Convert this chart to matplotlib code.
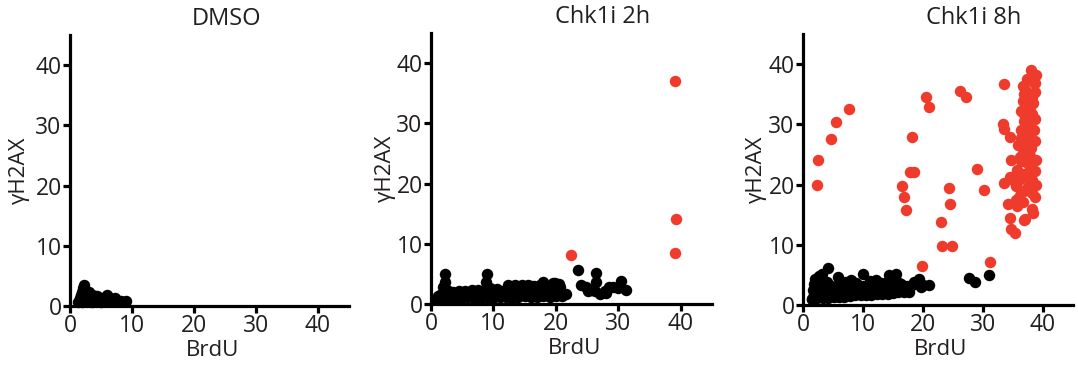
import matplotlib
matplotlib.use("Agg")
import matplotlib.pyplot as plt

plt.rcParams['font.family'] = ['Open Sans', 'DejaVu Sans']

titles = ["DMSO", "Chk1i 2h", "Chk1i 8h"]
red = '#ee3b2b'
ink = '#231f20'

# DMSO - all black
dmso_x = [1.3, 1.5, 1.8, 2.0, 2.1, 2.2, 2.4, 2.6, 2.8, 3.0, 3.2, 3.5, 3.8, 4.0, 4.3, 4.6,
          5.0, 5.3, 5.6, 6.0, 6.2, 6.6, 7.0, 7.3, 9.0, 2.0, 2.5, 3.0, 3.5, 4.0, 4.5, 5.0,
          5.5, 6.0, 1.6, 2.3, 6.5, 7.0, 7.8, 8.3, 3.3, 4.8, 5.8]
dmso_y = [0.6, 0.9, 1.8, 2.4, 3.0, 3.5, 2.7, 2.5, 2.2, 2.3, 2.0, 1.9, 1.7, 1.7, 1.6, 1.5,
          1.2, 1.3, 1.4, 1.8, 1.5, 1.2, 1.1, 1.3, 0.9, 0.7, 0.8, 1.0, 0.7, 1.0, 0.8, 0.7,
          0.9, 0.8, 1.3, 1.5, 0.8, 0.8, 0.9, 0.9, 1.4, 1.1, 1.0]

# Chk1i 2h
c2_black_x = [1, 2, 3, 4, 5, 6, 7, 8, 9, 10, 11, 12, 13, 14, 15, 16, 17, 18, 19, 20, 21,
              1.5, 2.5, 3.5, 4.5, 5.5, 6.5, 7.5, 8.5, 9.5, 10.5, 11.5, 12.5, 13.5, 14.5,
              15.5, 16.5, 17.5, 18.5, 19.5, 20.5,
              1.2, 2.2, 3.2, 4.2, 5.2, 6.2, 7.2, 8.2, 9.2, 10.2, 11.2, 12.2, 13.2, 14.2,
              15.2, 16.2, 17.2, 18.2, 19.2, 20.2,
              2.3, 2.2, 2.0, 8.9, 8.8, 9.0, 12.4, 14.6, 16.0, 18.0, 19.8, 20.7, 21.6,
              23.6, 24.0, 24.8, 25.6, 26.5, 26.4, 26.2, 27.0, 27.8, 28.5, 29.2, 30.0,
              30.4, 31.2, 25.2, 28.0]
c2_black_y = [0.8, 0.9, 1.0, 0.9, 1.0, 1.1, 0.9, 1.0, 1.2, 1.0, 1.1, 1.2, 1.0, 1.1, 1.3,
              1.2, 1.1, 1.3, 1.2, 1.4, 1.3,
              1.5, 2.3, 2.0, 2.1, 2.2, 2.3, 2.4, 2.1, 2.6, 2.5, 2.2, 2.4, 3.2, 2.6, 3.2,
              3.0, 3.2, 2.4, 3.5, 3.4,
              1.4, 1.6, 1.5, 1.6, 1.6, 1.7, 1.6, 1.7, 1.8, 1.7, 1.8, 1.8, 1.9, 1.8,
              2.0, 1.9, 2.0, 2.0, 2.1, 2.0,
              5.0, 3.6, 2.8, 5.0, 3.7, 2.8, 3.1, 3.1, 3.0, 3.6, 3.5, 2.9, 1.6,
              5.6, 3.2, 2.8, 2.3, 5.1, 3.6, 2.2, 1.7, 2.2, 2.8, 2.8, 2.7,
              3.8, 2.4, 2.1, 1.9]
c2_red_x = [22.4, 39.0, 39.2, 39.0]
c2_red_y = [8.1, 37.0, 14.1, 8.5]

# Chk1i 8h
c8_black_x = [1.5, 2.4, 3.3, 4.2, 5.1, 6.0, 6.9, 7.8, 8.7, 9.6, 10.5, 11.4, 12.3, 13.2,
              14.1, 15.0, 15.9, 16.8, 17.7,
              2.0, 2.9, 3.8, 4.7, 5.6, 6.5, 7.4, 8.3, 9.2, 10.1, 11.0, 11.9, 12.8, 13.7,
              14.6, 15.5, 16.4, 17.3, 18.2, 19.1, 20.0,
              1.8, 2.7, 3.6, 4.5, 5.4, 6.3, 7.2, 8.1, 9.0, 9.9, 10.8, 11.7, 12.6, 13.5,
              14.4, 15.3, 16.2, 17.1,
              2.0, 2.6, 3.2, 4.2, 5.8, 7.2, 8.0, 10.0, 12.2, 13.0, 14.3, 15.5, 16.0, 17.5,
              18.5, 19.3, 19.6, 21.0, 27.6, 28.6, 31.0, 1.5, 1.7, 1.8, 3.5, 4.0, 6.5,
              8.8, 11.2, 12.0]
c8_black_y = [1.0, 1.1, 1.2, 1.2, 1.3, 1.4, 1.4, 1.5, 1.6, 1.6, 1.7, 1.7, 1.8, 1.9,
              1.9, 2.0, 2.1, 2.1, 2.2,
              2.6, 3.0, 2.9, 3.1, 3.2, 3.0, 3.3, 3.2, 3.4, 3.1, 3.5, 3.3, 3.4, 3.6,
              3.3, 3.7, 3.5, 3.2, 3.4, 3.6, 3.3,
              1.8, 2.0, 2.0, 2.1, 2.2, 2.2, 2.3, 2.3, 2.4, 2.4, 2.5, 2.5, 2.6, 2.6,
              2.7, 2.7, 2.8, 2.8,
              4.4, 4.8, 5.2, 6.1, 4.6, 3.8, 4.2, 5.1, 4.1, 3.6, 5.0, 5.2, 3.6, 2.4,
              3.8, 4.3, 3.0, 3.4, 4.5, 3.8, 5.0, 1.0, 2.5, 3.5, 4.0, 3.9, 3.9,
              3.7, 4.0, 3.9]
c8_red_x = [2.3, 2.5, 4.6, 5.5, 7.6, 16.5, 16.8, 17.2, 18.1, 17.9, 18.5, 20.5, 21.0, 19.9,
            23.0, 23.1, 24.8, 24.4, 24.5, 26.1, 27.1, 29.0, 30.2, 31.2, 33.5, 33.3, 33.5,
            34.5, 34.7, 33.5, 34.8, 34.2, 34.5, 34.7, 35.3, 36.8,
            38.0, 38.9, 36.6, 38.7, 38.6, 37.1, 36.3, 37.8, 38.7, 36.8, 37.5, 36.3, 37.9,
            38.6, 36.6, 37.9, 37.1, 38.6, 36.6, 37.5, 38.2, 35.5, 36.9, 38.2, 38.6, 35.5,
            36.6, 38.1, 38.4, 37.0, 35.7, 37.3, 38.1, 36.6, 36.8, 38.1, 37.3, 37.2, 36.3,
            37.7, 37.3, 36.3, 35.0, 34.5, 35.8,
            37.4, 38.3, 36.9, 37.6, 38.4, 37.0, 37.8, 38.5, 36.4, 37.2, 38.0, 35.9, 36.2,
            37.4, 38.8, 35.6, 36.1, 37.6, 38.9, 36.0]
c8_red_y = [20.0, 24.1, 27.6, 30.4, 32.6, 19.8, 17.9, 15.8, 27.9, 22.1, 22.1, 34.5, 32.9, 6.5,
            13.8, 9.8, 9.8, 19.4, 16.8, 35.5, 34.5, 22.6, 19.1, 7.1, 36.7, 30.0, 29.3,
            27.9, 24.1, 20.2, 21.0, 16.7, 14.4, 12.7, 12.0, 14.2,
            39.1, 38.2, 36.4, 36.9, 35.3, 35.6, 32.2, 32.8, 30.9, 30.6, 29.5, 27.8, 28.1,
            27.3, 25.3, 24.8, 23.7, 22.3, 21.8, 20.9, 20.7, 19.8, 18.9, 18.6, 17.9, 17.4,
            17.1, 16.0, 15.2, 14.3, 16.5, 33.9, 34.6, 33.9, 31.7, 31.7, 26.7, 25.6, 23.9,
            23.4, 19.5, 19.0, 20.7, 21.2, 20.7,
            37.5, 37.0, 35.0, 34.0, 33.5, 31.5, 31.0, 29.0, 29.0, 27.0, 26.0, 26.5, 24.5,
            22.0, 24.0, 22.5, 21.0, 19.5, 20.0, 18.0]

panels = [
    (dmso_x, dmso_y, [], []),
    (c2_black_x, c2_black_y, c2_red_x, c2_red_y),
    (c8_black_x, c8_black_y, c8_red_x, c8_red_y),
]

# axes boxes in figure fractions, title x and ylabel x in axes fractions
boxes = [[0.0649, 0.1707, 0.2588, 0.7344],
         [0.3998, 0.1762, 0.2607, 0.7344],
         [0.7449, 0.1734, 0.2505, 0.7344]]
title_x = [0.563, 0.609, 0.633]
ylab_x = [-0.145, -0.125, -0.133]

fig = plt.figure(figsize=(10.78, 3.69), dpi=100)

for i, (bx, by, rx, ry) in enumerate(panels):
    ax = fig.add_axes(boxes[i])
    ax.scatter(bx, by, s=68, color='black', linewidths=0, zorder=3, clip_on=False)
    if rx:
        ax.scatter(rx, ry, s=68, color=red, linewidths=0, zorder=3, clip_on=False)
    ax.set_xlim(0, 45)
    ax.set_ylim(0, 45)
    ax.set_xticks([0, 10, 20, 30, 40])
    ax.set_yticks([0, 10, 20, 30, 40])
    for side in ['top', 'right']:
        ax.spines[side].set_visible(False)
    for side in ['left', 'bottom']:
        ax.spines[side].set_linewidth(2.3)
    ax.tick_params(width=2.3, length=5, pad=1, labelsize=16.5, labelcolor=ink)
    ax.set_xlabel('BrdU', fontsize=16, color=ink)
    ax.set_ylabel('γH2AX', fontsize=16, color=ink)
    ax.xaxis.set_label_coords(0.51, -0.125)
    ax.yaxis.set_label_coords(ylab_x[i], 0.5)
    ax.text(title_x[i], 1.015, titles[i], transform=ax.transAxes, ha='center',
            va='bottom', fontsize=17, color=ink)

fig.savefig('out.png', dpi=100)
